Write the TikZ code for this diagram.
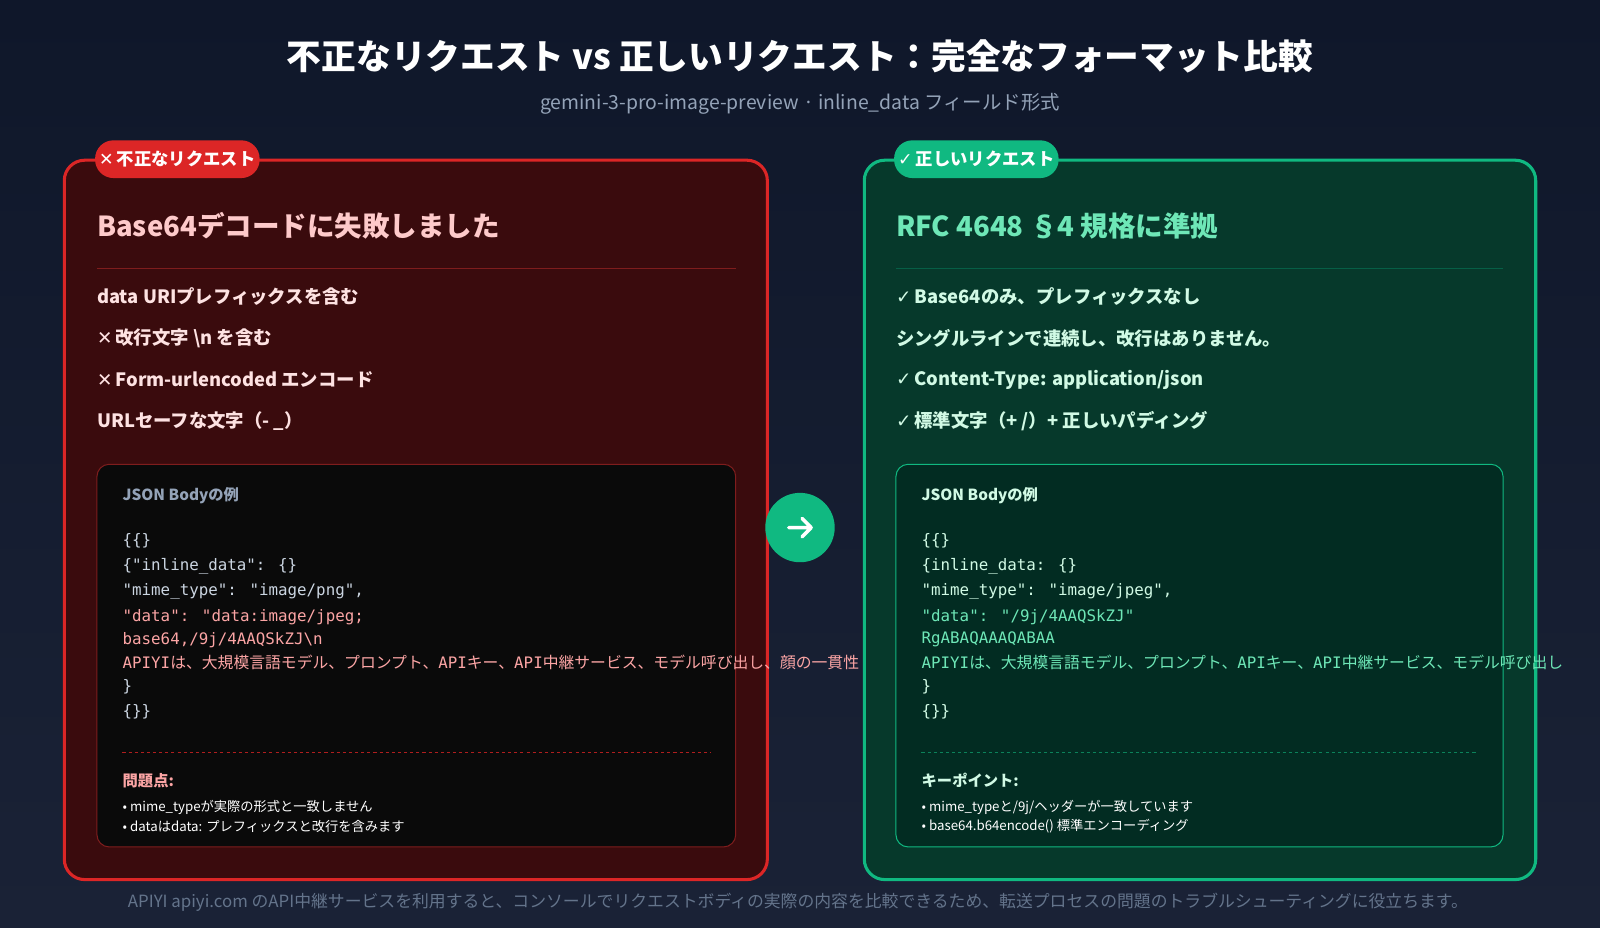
\documentclass[tikz,border=0pt]{standalone}
\usepackage{fontspec}
\setmainfont{Noto Sans CJK JP}
\newfontfamily\dv{DejaVu Sans}
\newfontfamily\codefont{DejaVu Sans Mono}
\newfontfamily\cjk{Noto Sans CJK JP}
\usetikzlibrary{positioning}
\definecolor{bgtop}{HTML}{0F172A}
\definecolor{bgbot}{HTML}{1A2236}
\definecolor{badred}{HTML}{DC2626}
\definecolor{badfill}{HTML}{3A0B0D}
\definecolor{badline}{HTML}{7F1D1D}
\definecolor{badhead}{HTML}{FECACA}
\definecolor{badtext}{HTML}{FEE2E2}
\definecolor{badcode}{HTML}{FCA5A5}
\definecolor{goodgreen}{HTML}{10B981}
\definecolor{goodfill}{HTML}{06392B}
\definecolor{goodline}{HTML}{065F46}
\definecolor{goodhead}{HTML}{6EE7B7}
\definecolor{goodtext}{HTML}{D1FAE5}
\definecolor{goodcode}{HTML}{022C22}
\definecolor{greytext}{HTML}{94A3B8}
\definecolor{codegrey}{HTML}{CBD5E1}
\definecolor{foot}{HTML}{64748B}
\newcommand{\fs}[1]{\fontsize{#1}{#1}\selectfont}
\newcommand{\okmark}{{\dv ✓}\hspace{3pt}}
\newcommand{\ngmark}{{\dv ✕}\hspace{3pt}}
\tikzset{
  txt/.style={anchor=west, inner sep=0pt},
  item/.style={txt, font=\fs{18}\bfseries},
  code/.style={txt, font=\codefont\fs{15.5}},
  note/.style={txt, font=\fs{13}, text=white},
  badge/.style={rounded corners=18pt, minimum height=37pt, inner xsep=4pt,
    font=\fs{17}\bfseries, text=white, anchor=west},
}
\begin{document}
\begin{tikzpicture}[x=1pt, y=-1pt]
  \useasboundingbox (0,0) rectangle (1568,909);
  \shade[top color=bgtop, bottom color=bgbot] (0,0) rectangle (1568,909);

  \node (title) at (784,55) {\fs{34}\bfseries\color{white}不正なリクエスト vs 正しいリクエスト：完全なフォーマット比較};
  \node (sub) at (784,102) {\fs{19}\color{greytext}gemini-3-pro-image-preview · inline\_data フィールド形式};

  % wrong request panel
  \draw[badred, line width=3pt, fill=badfill, rounded corners=20pt] (63,157) rectangle (752,862);
  \node[badge, fill=badred] (badbadge) at (93,156) {\ngmark 不正なリクエスト};
  \node[txt, font=\fs{27}\bfseries, text=badhead] (badhead) at (95,221) {Base64デコードに失敗しました};
  \draw[badline, line width=1.2pt] (95,263) -- (721,263);
  \node[item, text=badtext] (b1) at (95,291) {data URIプレフィックスを含む};
  \node[item, text=badtext] (b2) at (95,332) {\ngmark 改行文字 \textbackslash n を含む};
  \node[item, text=badtext] (b3) at (95,372) {\ngmark Form-urlencoded エンコード};
  \node[item, text=badtext] (b4) at (95,413) {URLセーフな文字（- \_）};
  \draw[badline, line width=1pt, fill=black!96, rounded corners=12pt] (95,455) rectangle (721,830);
  \node[txt, font=\fs{15}\bfseries, text=greytext] (badjson) at (120,486) {JSON Bodyの例};
  \node[code, text=codegrey] at (120,530) {\{\{\}};
  \node[code, text=codegrey] at (120,555) {\{"inline\_data": \{\}};
  \node[code, text=codegrey] at (120,580) {"mime\_type": "image/png",};
  \node[code, text=badcode] at (120,605) {"data": "data:image/jpeg;};
  \node[code, text=badcode] at (120,627) {base64,/9j/4AAQSkZJ\textbackslash n};
  \node[code, text=badcode] at (120,649) {APIYI\cjk\fs{15.5}は、大規模言語モデル、プロンプト、\codefont API\cjk キー、\codefont API\cjk 中継サービス、モデル呼び出し、顔の一貫性};
  \node[code, text=codegrey] at (120,673) {\}};
  \node[code, text=codegrey] at (120,698) {\{\}\}};
  \draw[badred!80!black, dashed, line width=0.8pt] (120,737) -- (697,737);
  \node[txt, font=\fs{15}\bfseries, text=badcode] (badnote) at (120,765) {問題点:};
  \node[note] at (120,791) {• mime\_typeが実際の形式と一致しません};
  \node[note] at (120,810) {• dataはdata: プレフィックスと改行を含みます};

  % correct request panel
  \draw[goodgreen, line width=3pt, fill=goodfill, rounded corners=20pt] (847,157) rectangle (1505,862);
  \node[badge, fill=goodgreen] (goodbadge) at (876,156) {\okmark 正しいリクエスト};
  \node[txt, font=\fs{27}\bfseries, text=goodhead] (goodhead) at (878,221) {RFC 4648 §4 規格に準拠};
  \draw[goodline, line width=1.2pt] (878,263) -- (1473,263);
  \node[item, text=goodtext] (g1) at (878,291) {\okmark Base64のみ、プレフィックスなし};
  \node[item, text=goodtext] (g2) at (878,332) {シングルラインで連続し、改行はありません。};
  \node[item, text=goodtext] (g3) at (878,372) {\okmark Content-Type: application/json};
  \node[item, text=goodtext] (g4) at (878,413) {\okmark 標準文字（+ /）+ 正しいパディング};
  \draw[goodgreen, line width=1pt, fill=goodcode, rounded corners=12pt] (878,455) rectangle (1473,830);
  \node[txt, font=\fs{15}\bfseries, text=goodtext] (goodjson) at (903,486) {JSON Bodyの例};
  \node[code, text=goodtext] at (903,530) {\{\{\}};
  \node[code, text=goodtext] at (903,555) {\{inline\_data: \{\}};
  \node[code, text=goodtext] at (903,580) {"mime\_type": "image/jpeg",};
  \node[code, text=goodhead] at (903,605) {"data": "/9j/4AAQSkZJ"};
  \node[code, text=goodhead] at (903,627) {RgABAQAAAQABAA};
  \node[code, text=goodhead] at (903,649) {APIYI\cjk\fs{15.5}は、大規模言語モデル、プロンプト、\codefont API\cjk キー、\codefont API\cjk 中継サービス、モデル呼び出し};
  \node[code, text=goodtext] at (903,673) {\}};
  \node[code, text=goodtext] at (903,698) {\{\}\}};
  \draw[goodgreen!70!black, dashed, line width=0.8pt] (903,737) -- (1448,737);
  \node[txt, font=\fs{15}\bfseries, text=goodtext] (goodnote) at (903,765) {キーポイント:};
  \node[note] at (903,791) {• mime\_typeと/9j/ヘッダーが一致しています};
  \node[note] at (903,810) {• base64.b64encode() 標準エンコーディング};

  % arrow between panels
  \node[circle, fill=goodgreen, minimum size=68pt, inner sep=0pt] (go) at (784,517) {};
  \draw[white, line width=3.5pt, line cap=round, line join=round]
    ([xshift=-11pt]go.center) -- ([xshift=11pt]go.center)
    ([xshift=2pt,yshift=-9pt]go.center) -- ([xshift=11pt]go.center) -- ([xshift=2pt,yshift=9pt]go.center);

  \node[font=\fs{16.5}, text=foot] (footer) at (782,884) {APIYI apiyi.com のAPI中継サービスを利用すると、コンソールでリクエストボディの実際の内容を比較できるため、転送プロセスの問題のトラブルシューティングに役立ちます。};
\end{tikzpicture}
\end{document}
